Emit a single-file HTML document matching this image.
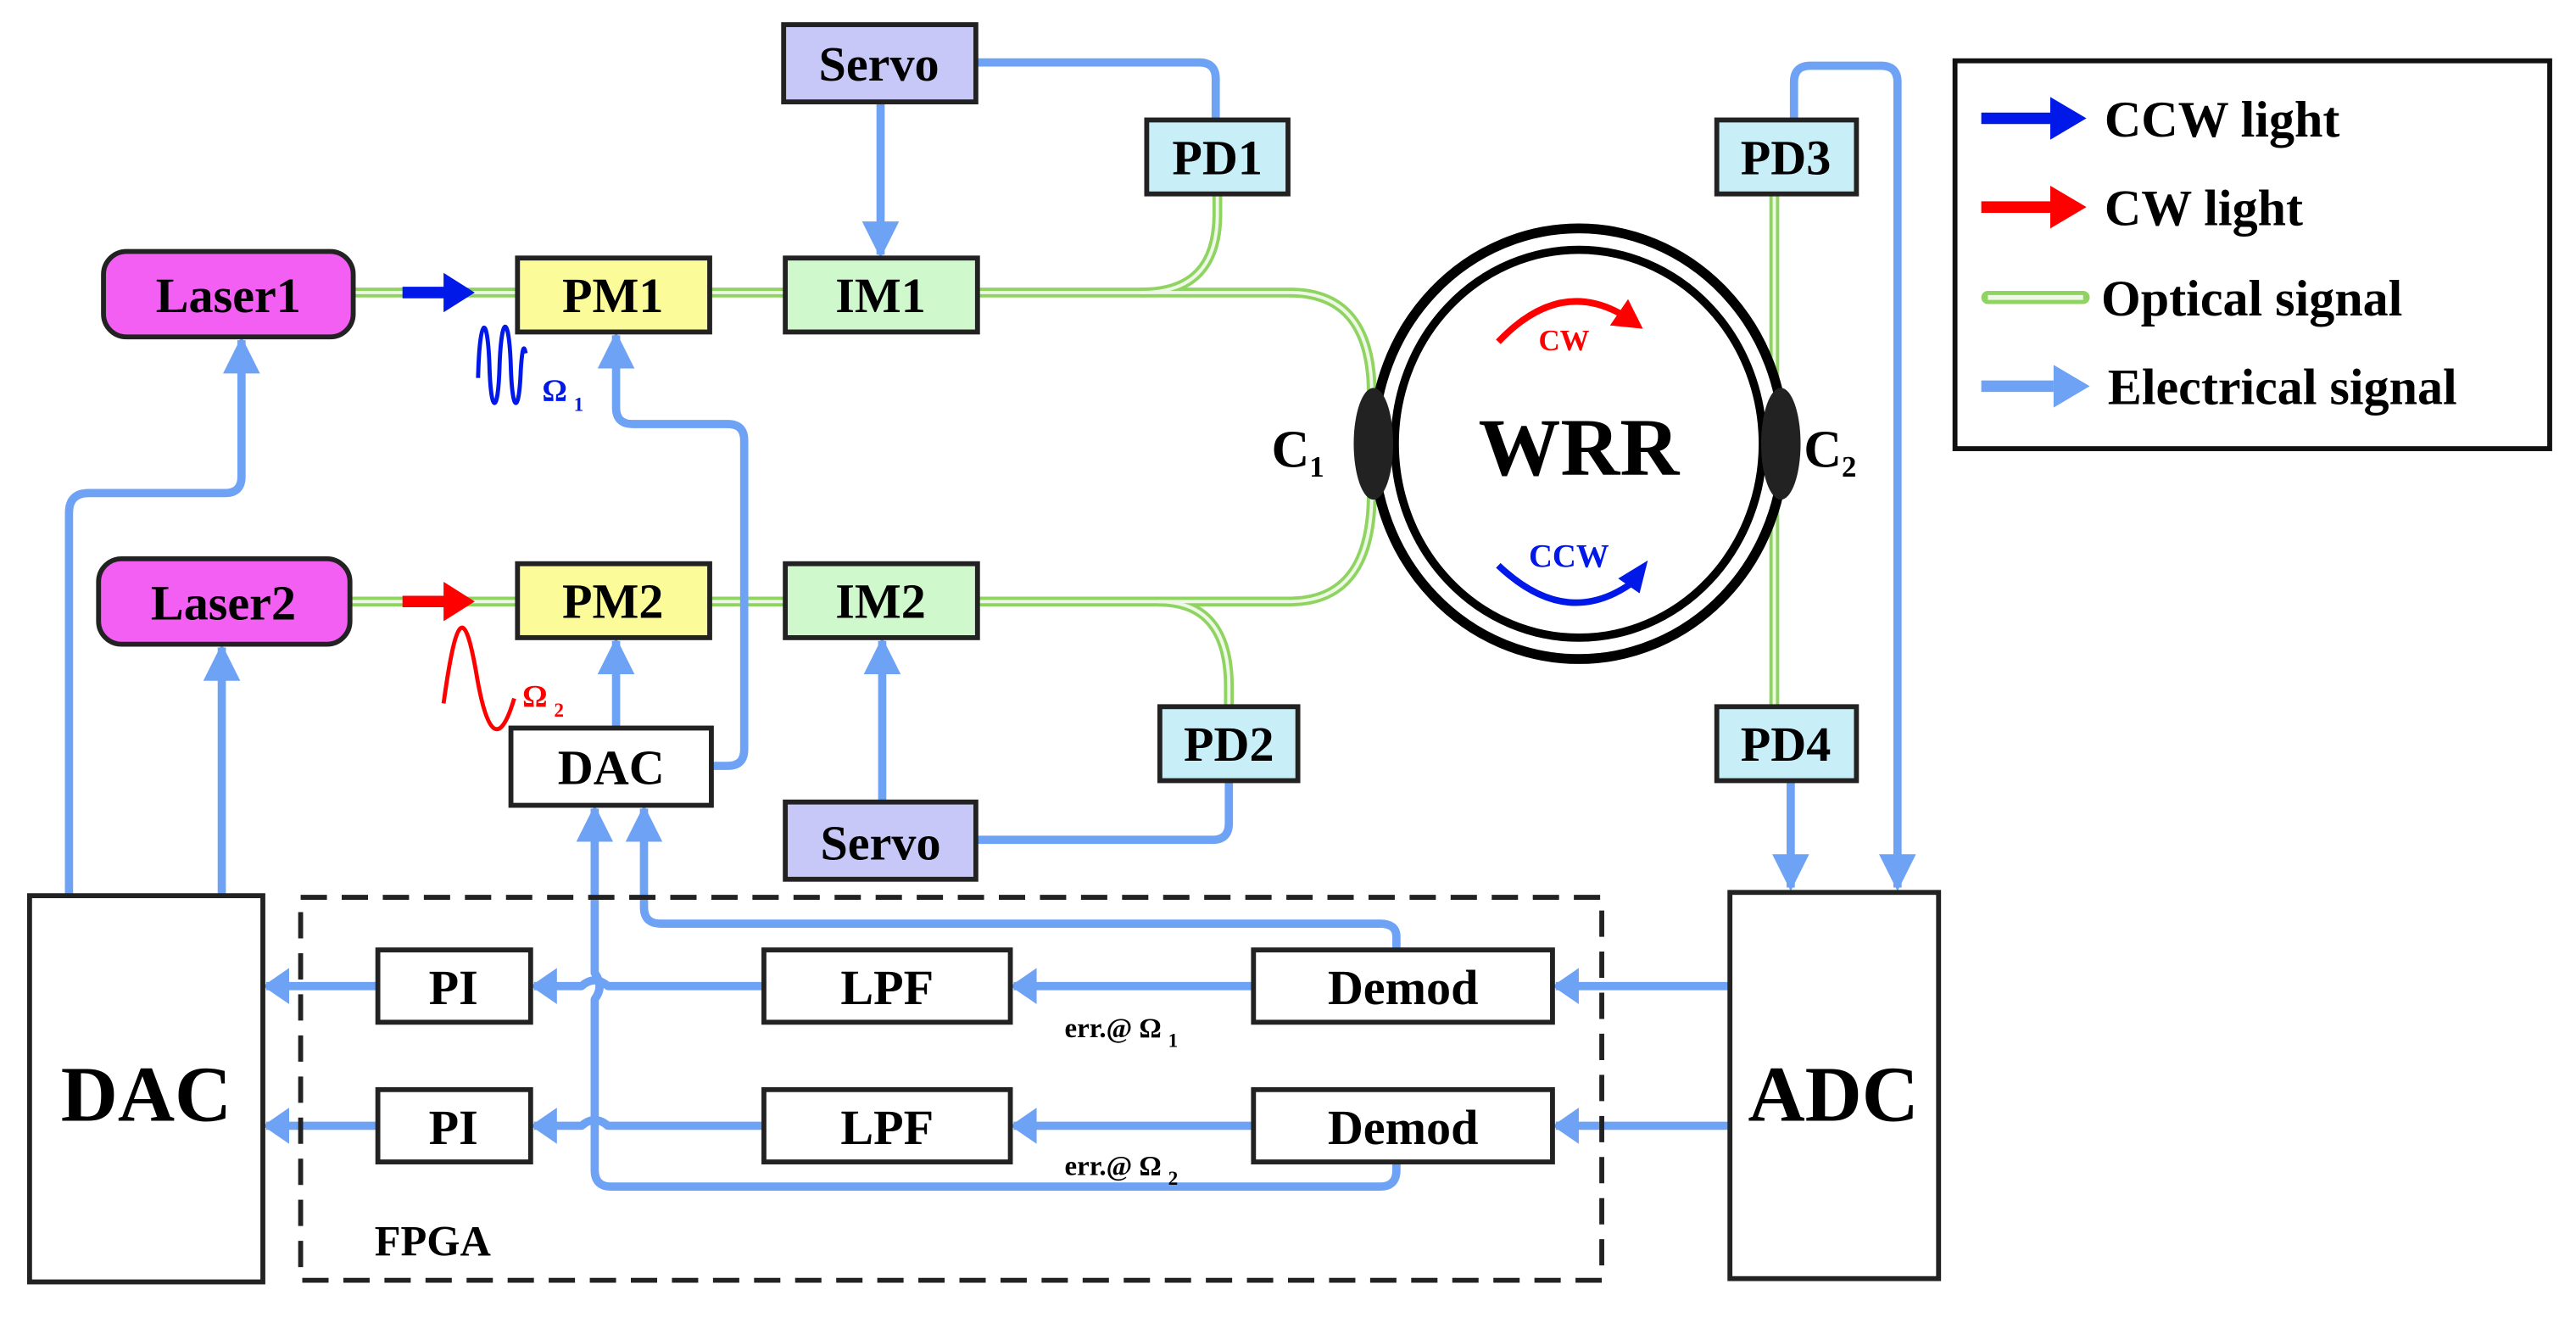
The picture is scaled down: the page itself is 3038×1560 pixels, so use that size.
<!DOCTYPE html>
<html><head><style>html,body{margin:0;padding:0;background:#fff}svg{display:block}</style></head>
<body>
<svg width="3038" height="1560" viewBox="0 0 1568 805" preserveAspectRatio="none" xmlns="http://www.w3.org/2000/svg" font-family="Liberation Serif, serif" font-weight="bold">
<defs>
<marker id="ea" viewBox="0 0 10 10" refX="9" refY="5" markerWidth="4.5" markerHeight="4.5" orient="auto" markerUnits="strokeWidth"><path d="M0,0 L10,5 L0,10 Z" fill="#6ea2f5"/></marker>
</defs>
<g fill="none" stroke-linecap="round">
<g stroke="#8fd460" stroke-width="6">
<path d="M215,178 H315 M432,178 H478 M595,178 H785 Q835,178 835,240 V300 Q835,366 785,366 H595 M478,366 H432 M315,366 H213"/>
<path d="M741,118 V130 Q741,178 695,178"/>
<path d="M748,430 V418 Q748,366 705,366"/>
<path d="M1080,118 V430"/>
</g>
<g stroke="#eef8e6" stroke-width="2">
<path d="M215,178 H315 M432,178 H478 M595,178 H785 Q835,178 835,240 V300 Q835,366 785,366 H595 M478,366 H432 M315,366 H213"/>
<path d="M741,118 V130 Q741,178 695,178"/>
<path d="M748,430 V418 Q748,366 705,366"/>
<path d="M1080,118 V430"/>
</g>
</g>
<ellipse cx="961" cy="270" rx="125" ry="131" fill="#fff" stroke="#000" stroke-width="6"/>
<ellipse cx="961" cy="270" rx="112" ry="118" fill="none" stroke="#000" stroke-width="5"/>
<ellipse cx="836" cy="270" rx="12" ry="34" fill="#222"/>
<ellipse cx="1084" cy="270" rx="12" ry="34" fill="#222"/>
<text x="961" y="289" font-size="50" text-anchor="middle">WRR</text>
<text x="790" y="284" font-size="32" text-anchor="middle">C<tspan font-size="18" dy="6">1</tspan></text>
<text x="1114" y="284" font-size="32" text-anchor="middle">C<tspan font-size="18" dy="6">2</tspan></text>
<path d="M912,208 Q950,168 990,193" stroke="#f00" stroke-width="4" fill="none"/>
<path d="M1000,200 L980,198 L991,182 Z" fill="#f00"/>
<text x="952" y="213" font-size="18" fill="#f00" text-anchor="middle">CW</text>
<path d="M912,344 Q955,385 997,352" stroke="#0018e8" stroke-width="4" fill="none"/>
<path d="M1003,341 L985,352 L998,361 Z" fill="#0018e8"/>
<text x="955" y="345" font-size="20" fill="#0018e8" text-anchor="middle">CCW</text>
<g fill="none" stroke="#6ea2f5" stroke-width="5" stroke-linejoin="round">
<path d="M594,38 H730 Q740,38 740,48 V73"/>
<path d="M536,62 V155" marker-end="url(#ea)"/>
<path d="M1092,73 V50 Q1092,40 1102,40 H1145 Q1155,40 1155,50 V540" marker-end="url(#ea)"/>
<path d="M1090,475 V540" marker-end="url(#ea)"/>
<path d="M42,545 V312 Q42,300 54,300 H137 Q147,300 147,290 V207" marker-end="url(#ea)"/>
<path d="M135,545 V394" marker-end="url(#ea)"/>
<path d="M375,443 V390" marker-end="url(#ea)"/>
<path d="M433,466 H443 Q453,466 453,456 V268 Q453,258 443,258 H385 Q375,258 375,248 V204" marker-end="url(#ea)"/>
<path d="M537,488 V390" marker-end="url(#ea)"/>
<path d="M594,511 H738 Q748,511 748,501 V475"/>
<path d="M850,578 V570 Q850,562 840,562 H402 Q392,562 392,552 V492" marker-end="url(#ea)"/>
<path d="M850,707 V712 Q850,722 840,722 H372 Q362,722 362,712 V608 Q368,600 362,592 V492" marker-end="url(#ea)"/>
<path d="M1053,600 H947 M1053,685 H947" />
<path d="M763,600 H617 M763,685 H617"/>
<path d="M465,600 H370 Q362,593 354,600 H325 M465,685 H370 Q362,678 354,685 H325"/>
<path d="M230,600 H162 M230,685 H162"/>
</g>
<g fill="#6ea2f5">
<path d="M945,600 l16,-11 v22 Z M945,685 l16,-11 v22 Z M615,600 l16,-11 v22 Z M615,685 l16,-11 v22 Z M323,600 l16,-11 v22 Z M323,685 l16,-11 v22 Z M160,600 l16,-11 v22 Z M160,685 l16,-11 v22 Z"/>
</g>
<path d="M245,178 H272" stroke="#0018e8" stroke-width="7"/><path d="M289,178 L270,166 V190 Z" fill="#0018e8"/>
<path d="M245,366 H272" stroke="#f00" stroke-width="7"/><path d="M289,366 L270,354 V378 Z" fill="#f00"/>
<path d="M291,230 C292,190 297,190 298,225 C299,252 303,252 304,225 C305,190 310,190 311,225 C312,252 316,252 317,225 C318,210 319,210 320,215" stroke="#0018e8" stroke-width="2.5" fill="none"/>
<text x="330" y="244" font-size="19" fill="#0018e8">Ω<tspan font-size="12" dx="4" dy="6">1</tspan></text>
<path d="M270,428 C278,370 283,370 290,410 C297,452 305,452 313,425" stroke="#f00" stroke-width="2.5" fill="none"/>
<text x="318" y="430" font-size="19" fill="#f00">Ω<tspan font-size="12" dx="4" dy="6">2</tspan></text>
<g stroke="#222" stroke-width="3">
<rect x="477" y="15" width="117" height="47" fill="#c8c8f8"/>
<rect x="698" y="73" width="86" height="45" fill="#c8eef8"/>
<rect x="63" y="153" width="152" height="52" rx="14" fill="#f25ff2"/>
<rect x="315" y="157" width="117" height="45" fill="#fbfb9a"/>
<rect x="478" y="157" width="117" height="45" fill="#cff8cc"/>
<rect x="60" y="340" width="153" height="52" rx="14" fill="#f25ff2"/>
<rect x="315" y="343" width="117" height="45" fill="#fbfb9a"/>
<rect x="478" y="343" width="117" height="45" fill="#cff8cc"/>
<rect x="706" y="430" width="84" height="45" fill="#c8eef8"/>
<rect x="1045" y="73" width="85" height="45" fill="#c8eef8"/>
<rect x="1045" y="430" width="85" height="45" fill="#c8eef8"/>
<rect x="478" y="488" width="116" height="47" fill="#c8c8f8"/>
<rect x="311" y="443" width="122" height="47" fill="#fff"/>
<rect x="18" y="545" width="142" height="235" fill="#fff"/>
<rect x="1053" y="543" width="127" height="235" fill="#fff"/>
<rect x="230" y="578" width="93" height="44" fill="#fff"/>
<rect x="230" y="663" width="93" height="44" fill="#fff"/>
<rect x="465" y="578" width="150" height="44" fill="#fff"/>
<rect x="465" y="663" width="150" height="44" fill="#fff"/>
<rect x="763" y="578" width="182" height="44" fill="#fff"/>
<rect x="763" y="663" width="182" height="44" fill="#fff"/>
</g>
<rect x="183" y="546" width="792" height="233" fill="none" stroke="#222" stroke-width="3" stroke-dasharray="16,9"/>
<rect x="1190" y="37" width="362" height="236" fill="none" stroke="#111" stroke-width="3"/>
<g font-size="30" text-anchor="middle">
<text x="535" y="49">Servo</text>
<text x="741" y="106">PD1</text>
<text x="139" y="190">Laser1</text>
<text x="373" y="190">PM1</text>
<text x="536" y="190">IM1</text>
<text x="136" y="377">Laser2</text>
<text x="373" y="376">PM2</text>
<text x="536" y="376">IM2</text>
<text x="748" y="463">PD2</text>
<text x="1087" y="106">PD3</text>
<text x="1087" y="463">PD4</text>
<text x="536" y="523">Servo</text>
<text x="372" y="477">DAC</text>
<text x="276" y="611">PI</text>
<text x="276" y="696">PI</text>
<text x="540" y="611">LPF</text>
<text x="540" y="696">LPF</text>
<text x="854" y="611">Demod</text>
<text x="854" y="696">Demod</text>
<text x="89" y="682" font-size="48">DAC</text>
<text x="1116" y="682" font-size="48">ADC</text>
</g>
<text x="228" y="764" font-size="26">FPGA</text>
<text x="648" y="631" font-size="17">err.@ Ω<tspan font-size="12" dx="4" dy="6">1</tspan></text>
<text x="648" y="715" font-size="17">err.@ Ω<tspan font-size="12" dx="4" dy="6">2</tspan></text>
<path d="M1206,72 H1248" stroke="#0018e8" stroke-width="7"/><path d="M1270,72 L1248,59 V85 Z" fill="#0018e8"/>
<path d="M1206,126 H1248" stroke="#f00" stroke-width="7"/><path d="M1270,126 L1248,113 V139 Z" fill="#f00"/>
<path d="M1210,181 H1268" stroke="#8fd460" stroke-width="8" stroke-linecap="round"/><path d="M1210,181 H1268" stroke="#eef8e6" stroke-width="3"/>
<path d="M1206,235 H1250" stroke="#6ea2f5" stroke-width="7"/><path d="M1272,235 L1250,222 V248 Z" fill="#6ea2f5"/>
<g font-size="31">
<text x="1281" y="83">CCW light</text>
<text x="1281" y="137">CW light</text>
<text x="1279" y="192">Optical signal</text>
<text x="1283" y="246">Electrical signal</text>
</g>
</svg>
</body></html>
